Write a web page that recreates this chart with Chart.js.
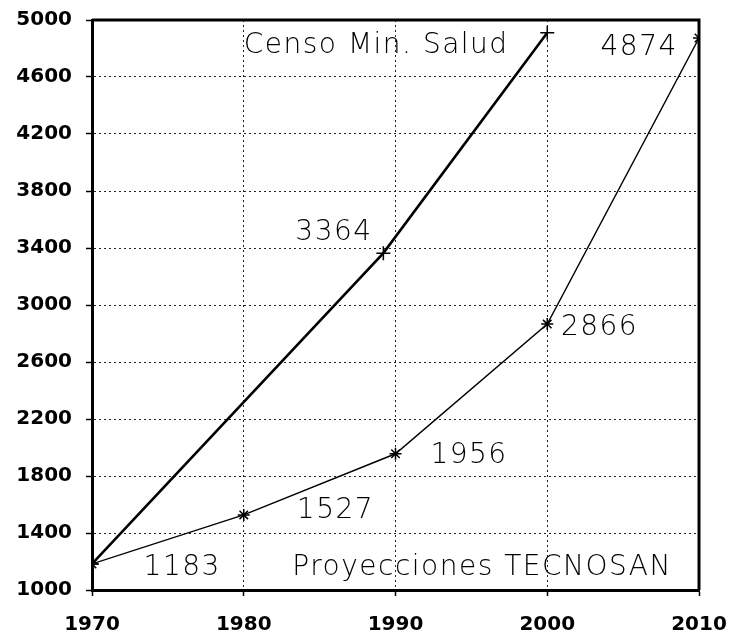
<!DOCTYPE html>
<html>
<head>
<meta charset="utf-8">
<script src="https://cdn.jsdelivr.net/npm/chart.js@4/dist/chart.umd.min.js"></script>
<style>
    html, body { margin: 0; padding: 0; background: #fff; }
    #wrap { width: 729px; height: 635px; }
</style>
</head>
<body>
<div id="wrap"><canvas id="poblacionChart"></canvas></div>
<script>
// Datos
const censoAnios = [1970, 1989.2, 2000];
const censoValores = [1183, 3364, 4910];
const proyAnios = [1970, 1980, 1990, 2000, 2010];
const proyValores = [1183, 1527, 1956, 2866, 4874];
const ticksX = [1970, 1980, 1990, 2000, 2010];
const ticksY = [1000, 1400, 1800, 2200, 2600, 3000, 3400, 3800, 4200, 4600, 5000];

// Etiquetas de texto dentro del grafico (ancla en coordenadas de datos)
const etiquetas = [
    { texto: 'Censo Min. Salud', x: 1980.0, y: 4768, align: 'left' },
    { texto: String(proyValores[4]), x: 2008.6, y: 4754, align: 'right' },
    { texto: String(censoValores[1]), x: 1983.4, y: 3456, align: 'left' },
    { texto: String(proyValores[3]), x: 2000.9, y: 2789, align: 'left' },
    { texto: String(proyValores[2]), x: 1992.3, y: 1891, align: 'left' },
    { texto: String(proyValores[1]), x: 1983.5, y: 1505, align: 'left' },
    { texto: String(proyValores[0]), x: 1973.4, y: 1105, align: 'left' },
    { texto: 'Proyecciones TECNOSAN', x: 1983.2, y: 1105, align: 'left' }
];

const toPoints = (xs, ys) => xs.map((x, i) => ({ x: x, y: ys[i] }));

const etiquetasPlugin = {
    id: 'etiquetas',
    afterDraw(chart) {
        const ctx = chart.ctx;
        const area = chart.chartArea;
        const sx = chart.scales.x;
        const sy = chart.scales.y;

        // marco superior y derecho
        ctx.save();
        ctx.strokeStyle = '#000';
        ctx.lineWidth = 3;
        ctx.beginPath();
        ctx.moveTo(area.left, area.top);
        ctx.lineTo(area.right, area.top);
        ctx.lineTo(area.right, area.bottom);
        ctx.stroke();
        ctx.restore();

        ctx.save();
        ctx.fillStyle = '#000';
        ctx.font = '200 28px "DejaVu Sans", "Liberation Sans", sans-serif';
        ctx.letterSpacing = '1.5px';
        ctx.textBaseline = 'alphabetic';
        etiquetas.forEach(et => {
            ctx.textAlign = et.align;
            ctx.fillText(et.texto, sx.getPixelForValue(et.x), sy.getPixelForValue(et.y));
        });
        ctx.restore();
    }
};

const ctx = document.getElementById('poblacionChart').getContext('2d');
new Chart(ctx, {
    type: 'line',
    data: {
        datasets: [{
            label: 'Censo Min. Salud',
            data: toPoints(censoAnios, censoValores),
            borderColor: '#000',
            borderWidth: 2.6,
            pointStyle: 'cross',
            pointRadius: 7,
            pointBorderWidth: 1.5,
            pointBorderColor: '#000',
            tension: 0,
            fill: false
        }, {
            label: 'Proyecciones TECNOSAN',
            data: toPoints(proyAnios, proyValores),
            borderColor: '#000',
            borderWidth: 1.4,
            pointStyle: 'star',
            pointRadius: 6,
            pointBorderWidth: 1.5,
            pointBorderColor: '#000',
            tension: 0,
            fill: false
        }]
    },
    options: {
        responsive: true,
        maintainAspectRatio: false,
        animation: false,
        layout: { padding: { top: 20, right: 30, bottom: 0, left: 0 } },
        plugins: {
            legend: { display: false },
            tooltip: { enabled: false }
        },
        scales: {
            x: {
                type: 'linear',
                min: ticksX[0],
                max: ticksX[ticksX.length - 1],
                afterBuildTicks: (scale) => { scale.ticks = ticksX.map(v => ({ value: v })); },
                afterFit: (scale) => {
                    scale.height = 45;
                    scale.paddingLeft = 0;
                    scale.paddingRight = 0;
                },
                ticks: {
                    color: '#000',
                    padding: 17,
                    maxRotation: 0,
                    font: { family: '"DejaVu Sans", sans-serif', size: 20, weight: 'bold' },
                    callback: (v) => String(v)
                },
                grid: {
                    color: '#222',
                    lineWidth: 1,
                    tickLength: 6,
                    tickColor: '#000',
                    tickWidth: 1.5
                },
                border: { display: true, color: '#000', width: 3, dash: [2, 3] }
            },
            y: {
                min: ticksY[0],
                max: ticksY[ticksY.length - 1],
                afterBuildTicks: (scale) => { scale.ticks = ticksY.map(v => ({ value: v })); },
                afterFit: (scale) => {
                    scale.width = 92;
                    scale.paddingTop = 0;
                    scale.paddingBottom = 0;
                },
                ticks: {
                    color: '#000',
                    padding: 14,
                    font: { family: '"DejaVu Sans", sans-serif', size: 20, weight: 'bold' },
                    callback: (v) => String(v)
                },
                grid: {
                    color: '#222',
                    lineWidth: 1,
                    tickLength: 6,
                    tickColor: '#000',
                    tickWidth: 1.5
                },
                border: { display: true, color: '#000', width: 3, dash: [2, 3] }
            }
        }
    },
    plugins: [etiquetasPlugin]
});
</script>
</body>
</html>
